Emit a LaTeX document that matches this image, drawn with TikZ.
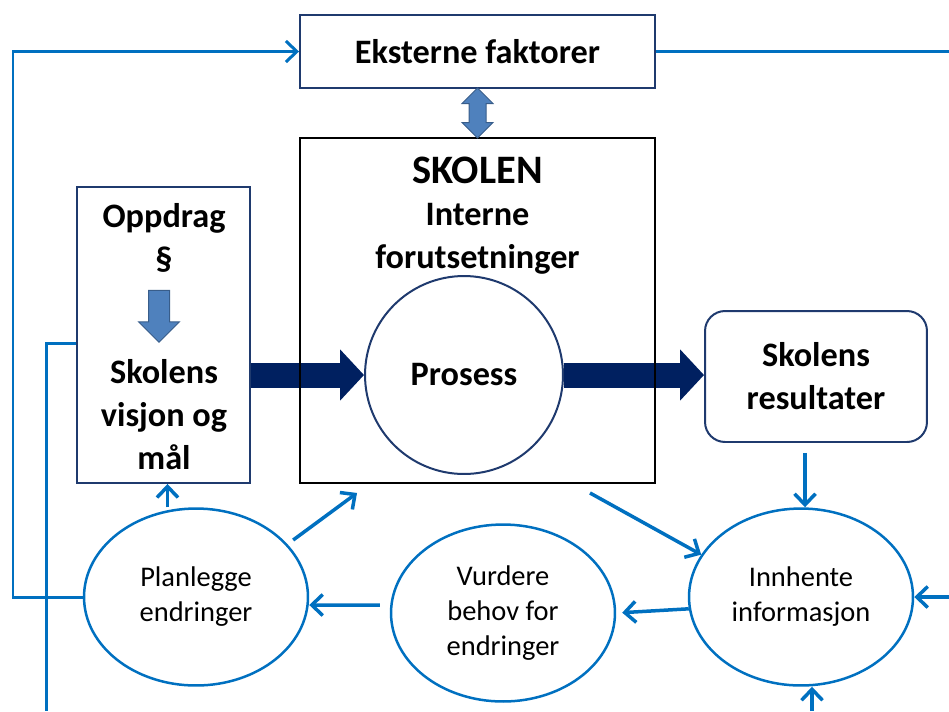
\documentclass[tikz,border=0pt]{standalone}
\usepackage{fontspec}
\setmainfont{Carlito}
\usetikzlibrary{arrows.meta,positioning,shapes.geometric,shapes.arrows,calc,backgrounds}
\definecolor{navy}{HTML}{1F3A6E}
\definecolor{deepnavy}{HTML}{002060}
\definecolor{linkblue}{HTML}{0070C0}
\definecolor{steel}{HTML}{4F81BD}
\definecolor{steeldark}{HTML}{385D8A}
\newcommand{\txtbold}{\fontsize{19.5}{24.5}\selectfont\bfseries}
\newcommand{\txtplain}{\fontsize{16.2}{19.9}\selectfont}
\tikzset{
  framebox/.style={
    rectangle, draw=#1, line width=0.04cm, inner sep=0pt
  },
  framebox/.default=navy,
  titletext/.style={
    font=\txtbold, align=center, inner sep=0pt
  },
  stepellipse/.style={
    ellipse, draw=linkblue, line width=0.05cm,
    minimum width=4.48cm, minimum height=3.54cm,
    font=\txtplain, align=center, inner sep=0pt
  },
  flowarrow/.style={
    -{Straight Barb[length=0.22cm,width=0.42cm]}, linkblue, line width=0.07cm
  },
  feedline/.style={
    linkblue, line width=0.06cm
  },
  bigarrow/.style={
    -{Triangle[length=0.48cm,width=1cm]}, deepnavy, line width=0.5cm
  },
  blockarrow/.style={
    fill=steel, draw=steeldark, line width=0.02cm, inner xsep=0pt
  },
}

\begin{document}
\begin{tikzpicture}[x=0.02cm, y=-0.02cm]
    \useasboundingbox (0,0) rectangle (949,711);

    % External factors on top
    \node[framebox, minimum width=7.1cm, minimum height=1.46cm, font=\txtbold] (ekst) at (477.5,51.5) {Eksterne faktorer};

    % The school with its internal conditions
    \node[framebox=black, minimum width=7.1cm, minimum height=6.9cm] (skolen) at (477.5,310.5) {};
    \node[titletext, font=\fontsize{23}{28}\selectfont\bfseries] (skolentitle) at (477.5,170) {SKOLEN};
    \node[titletext] (intern) at (477.5,239) {Interne\\forutsetninger};
    \node[circle, draw=navy, fill=white, line width=0.04cm, minimum size=3.96cm, font=\txtbold] (prosess) at (464,375) {Prosess};

    % Mandate, vision and goals
    \node[framebox, minimum width=3.46cm, minimum height=5.92cm] (opp) at (163.5,335) {};
    \node[titletext] (oppdrag) at (164,237.5) {Oppdrag\\§};
    \node[blockarrow, single arrow, rotate=-90, inner ysep=0.2cm, minimum height=1.04cm,
          single arrow head extend=0.2cm] (oppdown) at (159,311) {};
    \node[titletext] (visjon) at (164,415) {Skolens\\visjon og\\mål};

    % Results
    \node[framebox, rounded corners=0.4cm, minimum width=4.44cm, minimum height=2.62cm, titletext] (res) at (816,376.5) {Skolens\\resultater};

    % Evaluation cycle
    \node[stepellipse] (plan) at (196,597) {Planlegge\\endringer};
    \node[stepellipse] (vurd) at (503,613) {Vurdere\\behov for\\endringer};
    \node[stepellipse] (innh) at (801,597) {Innhente\\informasjon};

    % Two-way link school <-> external factors
    \node[blockarrow, double arrow, rotate=90, inner ysep=0.16cm, minimum height=1cm,
          double arrow head extend=0.14cm] (link) at ($(ekst.south)!0.5!(skolen.north)$) {};

    % Main flow (behind the frames)
    \begin{scope}[on background layer]
      \draw[bigarrow] (opp.east |- prosess.west) -- (prosess.west);
      \draw[bigarrow] (prosess.east) -- (prosess.east -| res.west);
    \end{scope}

    % Cycle arrows
    \draw[flowarrow] ([xshift=-0.22cm,yshift=-0.2cm]res.south) -- ([xshift=-0.22cm]res.south |- innh.north);
    \draw[flowarrow] ([xshift=2.25cm,yshift=-0.18cm]skolen.south) -- (innh.157);
    \draw[flowarrow, shorten >=0.12cm] (innh.186) -- (vurd.east);
    \draw[flowarrow, shorten <=0.2cm] ([yshift=0.16cm]vurd.west) -- ([yshift=-0.16cm]plan.east);
    \draw[flowarrow, shorten <=0.14cm] (plan.30) -- ([xshift=-2.41cm,yshift=-0.18cm]skolen.south);
    \draw[flowarrow] ([xshift=0.08cm]plan.north -| opp.south) -- ([xshift=0.08cm]opp.south);

    % Outer feedback lines
    \coordinate (lfar) at (13,711);
    \draw[flowarrow, line width=0.06cm] (plan.west) -- (plan.west -| lfar) |- (ekst.west);
    \coordinate (rfar) at (949,51.5);
    \draw[feedline] (ekst.east) -- (rfar);
    \coordinate (lnear) at (46,711);
    \draw[feedline] ([yshift=-0.16cm]opp.west) -| (lnear);
    \coordinate (rmid) at (949,597);
    \draw[flowarrow] (rmid) -- (innh.east);
    \coordinate (bmid) at (812,711);
    \draw[flowarrow] (bmid) -- (bmid |- innh.south);
\end{tikzpicture}
\end{document}
